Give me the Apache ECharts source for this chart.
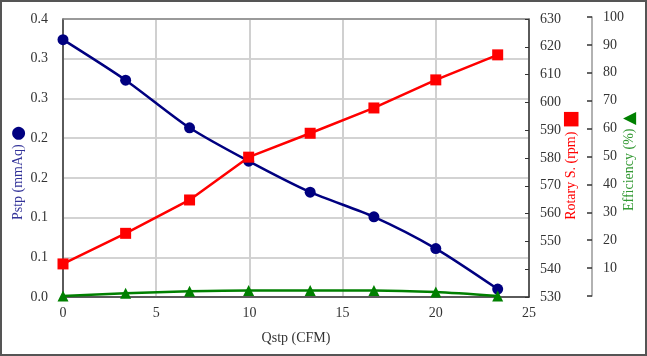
<!DOCTYPE html>
<html>
<head>
<meta charset="utf-8">
<script src="https://cdn.jsdelivr.net/npm/echarts@6/dist/echarts.min.js"></script>
<style>
html,body{margin:0;padding:0;background:#fff;}
#chart{width:647px;height:356px;}
</style>
</head>
<body>
<div id="chart"></div>
<script>
// ---- data ----
const qstp = [0, 3.36, 6.79, 9.96, 13.26, 16.68, 20.0, 23.32];
const pstp = [0.324, 0.273, 0.213, 0.171, 0.132, 0.101, 0.061, 0.010];
const rpm = [541.9, 552.9, 564.9, 580.3, 588.9, 598.0, 608.1, 617.1];
const eff = [0, 1.0, 1.7, 2.0, 2.0, 2.0, 1.4, 0];
const pstpTickLabels = ['0.0', '0.1', '0.1', '0.2', '0.2', '0.3', '0.3', '0.4'];
const rpmTicks = ['530','540','550','560','570','580','590','600','610','620','630'];
const effTickLabels = ['', '10', '20', '30', '40', '50', '60', '70', '80', '90', '100'];

const FONT = '"Liberation Serif", "Times New Roman", serif';
const LBL = '#333333';

function pairs(xs, ys) { return xs.map((x, i) => [x, ys[i]]); }

const chart = echarts.init(document.getElementById('chart'), null, {renderer: 'canvas'});
const option = {
  backgroundColor: '#ffffff',
  animation: false,
  textStyle: {fontFamily: FONT},
  grid: [
    {left: 63, right: 118, top: 19, bottom: 59, containLabel: false, outerBoundsMode: 'none'},
    {left: 63, right: 118, top: 17, bottom: 60, containLabel: false, outerBoundsMode: 'none'}
  ],
  graphic: [{
    type: 'rect', silent: true,
    shape: {x: 1, y: 1, width: 645, height: 354},
    style: {fill: 'none', stroke: '#555555', lineWidth: 2}
  }],
  xAxis: [
    {
      type: 'value', gridIndex: 0, min: 0, max: 25, interval: 5,
      name: 'Qstp (CFM)', nameLocation: 'middle', nameGap: 34, nameMoveOverlap: false,
      nameTextStyle: {color: LBL, fontSize: 14, fontFamily: FONT},
      axisLine: {show: true, onZero: false, lineStyle: {color: '#333333', width: 1.5}},
      axisTick: {show: false},
      axisLabel: {color: LBL, fontSize: 14, fontFamily: FONT, margin: 9},
      splitLine: {show: true, lineStyle: {color: '#d0d0d0', width: 2}}
    },
    {
      type: 'value', gridIndex: 0, position: 'top', min: 0, max: 25, interval: 5,
      axisLine: {show: true, onZero: false, lineStyle: {color: '#888888', width: 1.5}},
      axisTick: {show: false}, axisLabel: {show: false}, splitLine: {show: false}
    },
    {
      type: 'value', gridIndex: 1, min: 0, max: 25, show: false
    }
  ],
  yAxis: [
    {
      type: 'value', gridIndex: 0, position: 'left', min: 0, max: 0.35, interval: 0.05,
      name: 'Pstp (mmAq) {c|●}', nameLocation: 'middle', nameRotate: 90, nameGap: 36,
      nameMoveOverlap: false,
      nameTextStyle: {color: '#333399', fontSize: 14, fontFamily: FONT, padding: [0, 30, 0, 0],
        rich: {c: {color: '#000080', fontSize: 17, fontFamily: 'DejaVu Sans'}}},
      axisLine: {show: true, onZero: false, lineStyle: {color: '#333333', width: 1.5}},
      axisTick: {show: false},
      axisLabel: {color: LBL, fontSize: 14, fontFamily: FONT, margin: 15,
        formatter: (v) => pstpTickLabels[Math.round(v / 0.05)]},
      splitLine: {show: true, lineStyle: {color: '#c4c4c4', width: 1.5}}
    },
    {
      type: 'value', gridIndex: 0, position: 'right', min: 530, max: 630, interval: 10,
      name: 'Rotary S. (rpm) {s|■}', nameLocation: 'middle', nameRotate: 90, nameGap: 33,
      nameMoveOverlap: false,
      nameTextStyle: {color: '#ff0000', fontSize: 14, fontFamily: FONT, padding: [0, 14, 0, 0],
        rich: {s: {color: '#ff0000', fontSize: 19, fontFamily: 'DejaVu Sans'}}},
      axisLine: {show: true, onZero: false, lineStyle: {color: '#333333', width: 1.5}},
      axisTick: {show: true, inside: true, length: 4, lineStyle: {color: '#333333'}},
      axisLabel: {color: LBL, fontSize: 14, fontFamily: FONT, margin: 11,
        formatter: (v) => rpmTicks[Math.round((v - 530) / 10)]},
      splitLine: {show: false}
    },
    {
      type: 'value', gridIndex: 1, position: 'right', offset: 63, min: 0, max: 100, interval: 10,
      name: 'Efficiency (%) {t|▲}', nameLocation: 'middle', nameRotate: 90, nameGap: 29,
      nameMoveOverlap: false,
      nameTextStyle: {color: '#339933', fontSize: 14, fontFamily: FONT, padding: [0, 10, 0, 0],
        rich: {t: {color: '#008000', fontSize: 17, fontFamily: 'DejaVu Sans'}}},
      axisLine: {show: true, onZero: false, lineStyle: {color: '#999999', width: 1.5}},
      axisTick: {show: true, inside: true, length: 5, lineStyle: {color: '#333333', width: 1.5}},
      axisLabel: {color: LBL, fontSize: 14, fontFamily: FONT, margin: 11,
        formatter: (v) => effTickLabels[Math.round(v / 10)]},
      splitLine: {show: false}
    }
  ],
  series: [
    {
      name: 'Pstp', type: 'line', xAxisIndex: 0, yAxisIndex: 0,
      data: pairs(qstp, pstp), smooth: 0.25,
      symbol: 'circle', symbolSize: 11,
      lineStyle: {color: '#000080', width: 2.5},
      itemStyle: {color: '#000080'}
    },
    {
      name: 'Rotary', type: 'line', xAxisIndex: 0, yAxisIndex: 1,
      data: pairs(qstp, rpm),
      symbol: 'rect', symbolSize: 11,
      lineStyle: {color: '#ff0000', width: 2.5},
      itemStyle: {color: '#ff0000'}
    },
    {
      name: 'Efficiency', type: 'line', xAxisIndex: 2, yAxisIndex: 2,
      data: pairs(qstp, eff), smooth: 0.25,
      symbol: 'triangle', symbolSize: 11,
      lineStyle: {color: '#008000', width: 2.5},
      itemStyle: {color: '#008000'}
    }
  ]
};
chart.setOption(option);
</script>
</body>
</html>
